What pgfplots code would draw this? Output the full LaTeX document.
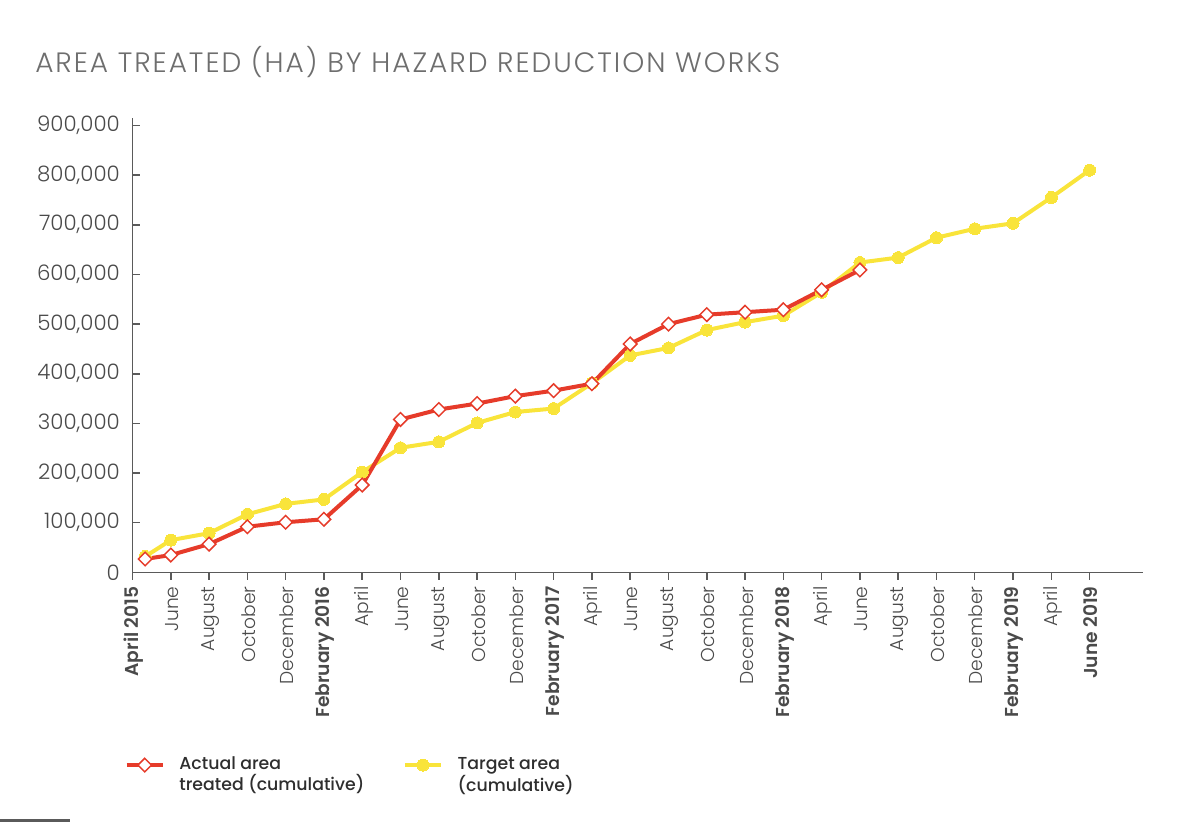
\documentclass[border=0pt]{standalone}
\usepackage{fontspec}
\setmainfont{Poppins}
\newfontfamily\lightfont{Poppins Light}
\newfontfamily\titlefont{Poppins Light}[LetterSpace=7]
\newfontfamily\medfont{Poppins Medium}
\usepackage{pgfplots}
\pgfplotsset{compat=1.18}

\definecolor{actualred}{HTML}{E63B2A}
\definecolor{targetyellow}{HTML}{F9E43A}
\definecolor{axisgray}{HTML}{5A5A5A}
\definecolor{labelgray}{HTML}{4A4A4A}
\definecolor{titlegray}{HTML}{6E6E6E}
\definecolor{legtext}{HTML}{2E2E2E}

% 1px of the reference = 0.75pt
\begin{document}
\begin{tikzpicture}
\useasboundingbox (0pt,0pt) rectangle (900pt,-616.5pt);
\node[anchor=west, inner sep=0, text=titlegray,
      font=\titlefont\fontsize{21}{24}\selectfont] at (26.25pt,-46.5pt)
      {AREA TREATED (HA) BY HAZARD REDUCTION WORKS};
\fill[axisgray] (0pt,-616.5pt) rectangle (52.5pt,-614.3pt);

\begin{axis}[
  at={(99.4pt,-429.3pt)}, anchor=south west,
  scale only axis, width=758pt, height=340.8pt,
  xmin=0, xmax=26.4, ymin=0, ymax=915000,
  axis lines=left,
  axis line style={-, draw=axisgray, line width=1.1pt},
  tick align=inside, major tick length=5.5pt,
  tick style={draw=axisgray, line width=1.1pt},
  xtick style={yshift=-5.5pt},
  ytick={0,100000,...,900000},
  scaled y ticks=false,
  /pgf/number format/.cd, fixed, 1000 sep={,}, assume math mode=true,
  /pgfplots/.cd,
  yticklabel style={font=\lightfont\fontsize{16}{18}\selectfont, text=labelgray, xshift=-6pt},
  xtick={0,...,25},
  xticklabels={\textbf{April 2015},June,August,October,December,\textbf{February 2016},
    April,June,August,October,December,\textbf{February 2017},
    April,June,August,October,December,\textbf{February 2018},
    April,June,August,October,December,\textbf{February 2019},
    April,\textbf{June 2019}},
  xticklabel style={rotate=90, anchor=east, font=\lightfont\fontsize{14}{16}\selectfont,
    text=labelgray, yshift=-1pt, xshift=-7pt},
  reverse legend,
  legend style={at={(axis description cs:-0.012,-0.393)}, anchor=north west,
    draw=none, fill=none, legend columns=2,
    font=\medfont\fontsize{13}{15.5}\selectfont, text=legtext,
    /tikz/every odd column/.append style={column sep=9pt},
    /tikz/every even column/.append style={column sep=27pt},
    cells={anchor=west}},
  legend image code/.code={
    \draw[#1, mark=none] (0pt,-0.8pt) -- (27pt,-0.8pt);
    \draw[#1, only marks] plot coordinates {(13.5pt,-0.8pt)};
  },
]
\addplot[targetyellow, line width=3pt, mark=*, mark size=4.5pt,
  mark options={fill=targetyellow, draw=targetyellow, line width=0pt}]
  table {
  x y
  0.33 32000
  1 65000
  2 79000
  3 117000
  4 138000
  5 147000
  6 202000
  7 251000
  8 263000
  9 301000
  10 323000
  11 330000
  12 381000
  13 437000
  14 452000
  15 488000
  16 504000
  17 517000
  18 564000
  19 624000
  20 634000
  21 674000
  22 692000
  23 703000
  24 755000
  25 810000
};
\addplot[actualred, line width=3pt, mark=square*, mark size=3.6pt,
  mark options={rotate=45, fill=white, draw=actualred, line width=1.1pt}]
  table {
  x y
  0.33 27000
  1 35000
  2 57000
  3 92000
  4 101000
  5 107000
  6 176000
  7 308000
  8 328000
  9 340000
  10 355000
  11 366000
  12 380000
  13 460000
  14 500000
  15 519000
  16 524000
  17 529000
  18 569000
  19 609000
};
\legend{\vtop{\hbox{Target area}\hbox{(cumulative)}},
        \vtop{\hbox{Actual area}\hbox{treated (cumulative)}}}
\end{axis}
\end{tikzpicture}
\end{document}
